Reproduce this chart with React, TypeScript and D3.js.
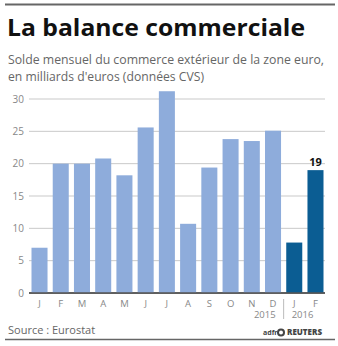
import React from "react";
import * as d3 from "d3";

const months = ["J", "F", "M", "A", "M", "J", "J", "A", "S", "O", "N", "D", "J", "F"];
const values = [7.0, 20.0, 20.0, 20.8, 18.2, 25.6, 31.2, 10.7, 19.4, 23.8, 23.5, 25.1, 7.8, 19.0];
const years = [2015, 2015, 2015, 2015, 2015, 2015, 2015, 2015, 2015, 2015, 2015, 2015, 2016, 2016];
const yTicks = [0, 5, 10, 15, 20, 25, 30];
const yearLabels = ["2015", "2016"];

const W = 338;
const H = 346;
const FONT = "'Open Sans', 'Noto Sans', sans-serif";

export default function App() {
  const keys = months.map((_, i) => String(i));
  const x = d3.scaleBand<string>().domain(keys).range([31.5, 323.5]).paddingInner(0.245).paddingOuter(0);
  const y = d3.scaleLinear().domain([0, 30]).range([293, 99]);
  const lastIdx = values.length - 1;
  const splitIdx = years.indexOf(2016);
  const sepX = (x(String(splitIdx - 1))! + x.bandwidth() + x(String(splitIdx))!) / 2;

  return (
    <svg width={W} height={H} style={{ position: "absolute", left: 0, top: 0, background: "#fff" }}>
      <line x1={5} x2={335} y1={4.5} y2={4.5} stroke="#666" strokeWidth={2} />
      <text x={7} y={36} fontFamily={FONT} fontWeight={700} fontSize={24} fill="#111" textLength={298} lengthAdjust="spacingAndGlyphs">
        La balance commerciale
      </text>
      <text x={8} y={64} fontFamily={FONT} fontSize={12.5} fill="#666" textLength={316} lengthAdjust="spacingAndGlyphs">
        Solde mensuel du commerce extérieur de la zone euro,
      </text>
      <text x={8} y={81} fontFamily={FONT} fontSize={12.5} fill="#666" textLength={196} lengthAdjust="spacingAndGlyphs">
        en milliards d'euros (données CVS)
      </text>

      {yTicks.map((t) => (
        <g key={t}>
          <line x1={29} x2={325} y1={y(t)} y2={y(t)} stroke={t === 0 ? "#555" : "#c9c9c9"} strokeWidth={t === 0 ? 1.5 : 1} />
          <text x={24} y={y(t) + 3.5} textAnchor="end" fontFamily={FONT} fontSize={10} fill="#888">
            {t}
          </text>
        </g>
      ))}

      {values.map((v, i) => (
        <rect
          key={i}
          x={x(String(i))}
          y={y(v)}
          width={x.bandwidth()}
          height={y(0) - y(v)}
          fill={years[i] === 2016 ? "#0b5d93" : "#8eacdb"}
        />
      ))}
      <line x1={29} x2={325} y1={y(0)} y2={y(0)} stroke="#555" strokeWidth={1.5} />

      <text
        x={x(String(lastIdx))! + x.bandwidth() / 2}
        y={y(values[lastIdx]) - 4}
        textAnchor="middle"
        fontFamily={FONT}
        fontWeight={700}
        fontSize={11}
        fill="#111"
      >
        {d3.format("d")(values[lastIdx])}
      </text>

      {months.map((m, i) => (
        <text key={i} x={x(String(i))! + x.bandwidth() / 2} y={306.5} textAnchor="middle" fontFamily={FONT} fontSize={9.5} fill="#888">
          {m}
        </text>
      ))}
      <line x1={sepX} x2={sepX} y1={299} y2={319} stroke="#bbb" strokeWidth={1} />
      <text x={sepX - 8} y={318} textAnchor="end" fontFamily={FONT} fontSize={9.5} fill="#888">
        {yearLabels[0]}
      </text>
      <text x={sepX + 8} y={318} textAnchor="start" fontFamily={FONT} fontSize={9.5} fill="#888">
        {yearLabels[1]}
      </text>

      <text x={8} y={334} fontFamily={FONT} fontSize={11} fill="#666">
        Source : Eurostat
      </text>
      <g transform="translate(263,335)">
        <text x={0} y={0} fontFamily={FONT} fontWeight={700} fontSize={7} fill="#444">
          adfr
        </text>
        <circle cx={18} cy={-2.5} r={4} fill="#444" />
        <circle cx={18} cy={-2.5} r={2} fill="#fff" />
        <text x={24} y={0} fontFamily={FONT} fontWeight={800} fontSize={8} fill="#444" textLength={35} lengthAdjust="spacingAndGlyphs">
          REUTERS
        </text>
      </g>
      <line x1={5} x2={335} y1={339.5} y2={339.5} stroke="#666" strokeWidth={1.5} />
    </svg>
  );
}
